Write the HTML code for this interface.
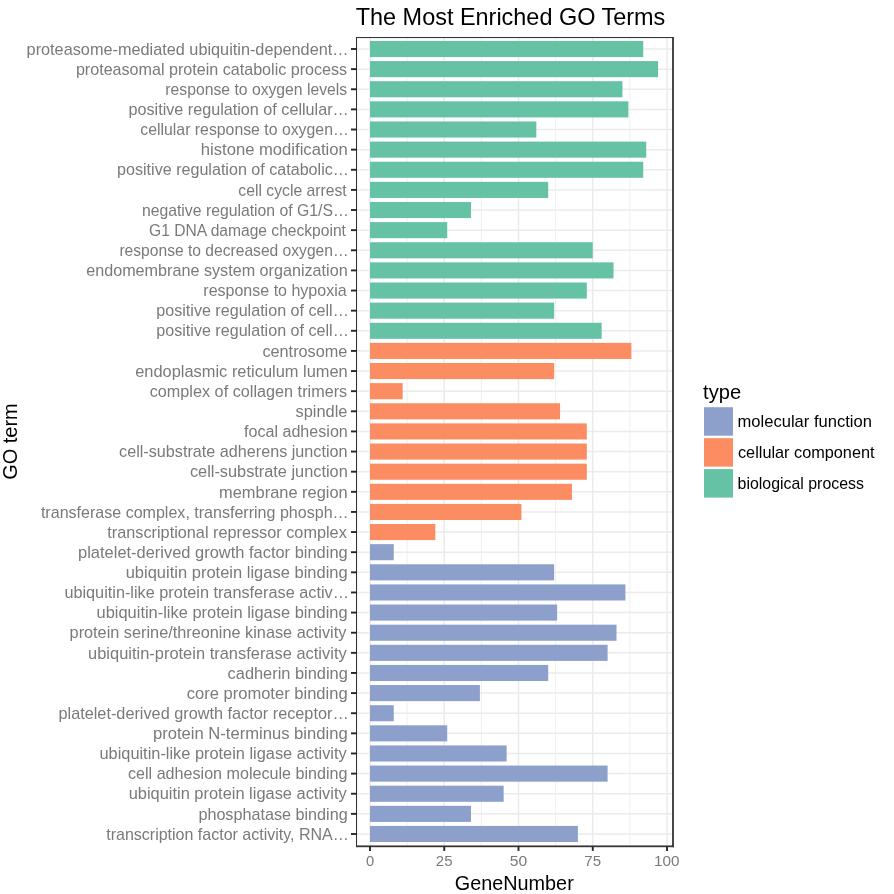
<!DOCTYPE html>
<html><head><meta charset="utf-8"><style>html,body{margin:0;padding:0;background:#fff;}svg{display:block;will-change:transform;}</style></head>
<body>
<svg width="894" height="894" viewBox="0 0 894 894" font-family="Liberation Sans, sans-serif">
<rect width="894" height="894" fill="#fff"/>
<line x1="407.12" y1="37.0" x2="407.12" y2="846.2" stroke="#ebebeb" stroke-width="0.8"/>
<line x1="481.38" y1="37.0" x2="481.38" y2="846.2" stroke="#ebebeb" stroke-width="0.8"/>
<line x1="555.62" y1="37.0" x2="555.62" y2="846.2" stroke="#ebebeb" stroke-width="0.8"/>
<line x1="629.88" y1="37.0" x2="629.88" y2="846.2" stroke="#ebebeb" stroke-width="0.8"/>
<line x1="370.00" y1="37.0" x2="370.00" y2="846.2" stroke="#ebebeb" stroke-width="1.5"/>
<line x1="444.25" y1="37.0" x2="444.25" y2="846.2" stroke="#ebebeb" stroke-width="1.5"/>
<line x1="518.50" y1="37.0" x2="518.50" y2="846.2" stroke="#ebebeb" stroke-width="1.5"/>
<line x1="592.75" y1="37.0" x2="592.75" y2="846.2" stroke="#ebebeb" stroke-width="1.5"/>
<line x1="667.00" y1="37.0" x2="667.00" y2="846.2" stroke="#ebebeb" stroke-width="1.5"/>
<line x1="356.0" y1="49.00" x2="672.6" y2="49.00" stroke="#ebebeb" stroke-width="1.5"/>
<line x1="356.0" y1="69.13" x2="672.6" y2="69.13" stroke="#ebebeb" stroke-width="1.5"/>
<line x1="356.0" y1="89.26" x2="672.6" y2="89.26" stroke="#ebebeb" stroke-width="1.5"/>
<line x1="356.0" y1="109.38" x2="672.6" y2="109.38" stroke="#ebebeb" stroke-width="1.5"/>
<line x1="356.0" y1="129.51" x2="672.6" y2="129.51" stroke="#ebebeb" stroke-width="1.5"/>
<line x1="356.0" y1="149.64" x2="672.6" y2="149.64" stroke="#ebebeb" stroke-width="1.5"/>
<line x1="356.0" y1="169.77" x2="672.6" y2="169.77" stroke="#ebebeb" stroke-width="1.5"/>
<line x1="356.0" y1="189.90" x2="672.6" y2="189.90" stroke="#ebebeb" stroke-width="1.5"/>
<line x1="356.0" y1="210.02" x2="672.6" y2="210.02" stroke="#ebebeb" stroke-width="1.5"/>
<line x1="356.0" y1="230.15" x2="672.6" y2="230.15" stroke="#ebebeb" stroke-width="1.5"/>
<line x1="356.0" y1="250.28" x2="672.6" y2="250.28" stroke="#ebebeb" stroke-width="1.5"/>
<line x1="356.0" y1="270.41" x2="672.6" y2="270.41" stroke="#ebebeb" stroke-width="1.5"/>
<line x1="356.0" y1="290.54" x2="672.6" y2="290.54" stroke="#ebebeb" stroke-width="1.5"/>
<line x1="356.0" y1="310.66" x2="672.6" y2="310.66" stroke="#ebebeb" stroke-width="1.5"/>
<line x1="356.0" y1="330.79" x2="672.6" y2="330.79" stroke="#ebebeb" stroke-width="1.5"/>
<line x1="356.0" y1="350.92" x2="672.6" y2="350.92" stroke="#ebebeb" stroke-width="1.5"/>
<line x1="356.0" y1="371.05" x2="672.6" y2="371.05" stroke="#ebebeb" stroke-width="1.5"/>
<line x1="356.0" y1="391.18" x2="672.6" y2="391.18" stroke="#ebebeb" stroke-width="1.5"/>
<line x1="356.0" y1="411.30" x2="672.6" y2="411.30" stroke="#ebebeb" stroke-width="1.5"/>
<line x1="356.0" y1="431.43" x2="672.6" y2="431.43" stroke="#ebebeb" stroke-width="1.5"/>
<line x1="356.0" y1="451.56" x2="672.6" y2="451.56" stroke="#ebebeb" stroke-width="1.5"/>
<line x1="356.0" y1="471.69" x2="672.6" y2="471.69" stroke="#ebebeb" stroke-width="1.5"/>
<line x1="356.0" y1="491.82" x2="672.6" y2="491.82" stroke="#ebebeb" stroke-width="1.5"/>
<line x1="356.0" y1="511.94" x2="672.6" y2="511.94" stroke="#ebebeb" stroke-width="1.5"/>
<line x1="356.0" y1="532.07" x2="672.6" y2="532.07" stroke="#ebebeb" stroke-width="1.5"/>
<line x1="356.0" y1="552.20" x2="672.6" y2="552.20" stroke="#ebebeb" stroke-width="1.5"/>
<line x1="356.0" y1="572.33" x2="672.6" y2="572.33" stroke="#ebebeb" stroke-width="1.5"/>
<line x1="356.0" y1="592.46" x2="672.6" y2="592.46" stroke="#ebebeb" stroke-width="1.5"/>
<line x1="356.0" y1="612.58" x2="672.6" y2="612.58" stroke="#ebebeb" stroke-width="1.5"/>
<line x1="356.0" y1="632.71" x2="672.6" y2="632.71" stroke="#ebebeb" stroke-width="1.5"/>
<line x1="356.0" y1="652.84" x2="672.6" y2="652.84" stroke="#ebebeb" stroke-width="1.5"/>
<line x1="356.0" y1="672.97" x2="672.6" y2="672.97" stroke="#ebebeb" stroke-width="1.5"/>
<line x1="356.0" y1="693.10" x2="672.6" y2="693.10" stroke="#ebebeb" stroke-width="1.5"/>
<line x1="356.0" y1="713.22" x2="672.6" y2="713.22" stroke="#ebebeb" stroke-width="1.5"/>
<line x1="356.0" y1="733.35" x2="672.6" y2="733.35" stroke="#ebebeb" stroke-width="1.5"/>
<line x1="356.0" y1="753.48" x2="672.6" y2="753.48" stroke="#ebebeb" stroke-width="1.5"/>
<line x1="356.0" y1="773.61" x2="672.6" y2="773.61" stroke="#ebebeb" stroke-width="1.5"/>
<line x1="356.0" y1="793.74" x2="672.6" y2="793.74" stroke="#ebebeb" stroke-width="1.5"/>
<line x1="356.0" y1="813.86" x2="672.6" y2="813.86" stroke="#ebebeb" stroke-width="1.5"/>
<line x1="356.0" y1="833.99" x2="672.6" y2="833.99" stroke="#ebebeb" stroke-width="1.5"/>
<rect x="370.00" y="40.95" width="273.24" height="16.10" fill="#66C2A5"/>
<rect x="370.00" y="61.08" width="288.09" height="16.10" fill="#66C2A5"/>
<rect x="370.00" y="81.21" width="252.45" height="16.10" fill="#66C2A5"/>
<rect x="370.00" y="101.33" width="258.39" height="16.10" fill="#66C2A5"/>
<rect x="370.00" y="121.46" width="166.32" height="16.10" fill="#66C2A5"/>
<rect x="370.00" y="141.59" width="276.21" height="16.10" fill="#66C2A5"/>
<rect x="370.00" y="161.72" width="273.24" height="16.10" fill="#66C2A5"/>
<rect x="370.00" y="181.85" width="178.20" height="16.10" fill="#66C2A5"/>
<rect x="370.00" y="201.97" width="100.98" height="16.10" fill="#66C2A5"/>
<rect x="370.00" y="222.10" width="77.22" height="16.10" fill="#66C2A5"/>
<rect x="370.00" y="242.23" width="222.75" height="16.10" fill="#66C2A5"/>
<rect x="370.00" y="262.36" width="243.54" height="16.10" fill="#66C2A5"/>
<rect x="370.00" y="282.49" width="216.81" height="16.10" fill="#66C2A5"/>
<rect x="370.00" y="302.61" width="184.14" height="16.10" fill="#66C2A5"/>
<rect x="370.00" y="322.74" width="231.66" height="16.10" fill="#66C2A5"/>
<rect x="370.00" y="342.87" width="261.36" height="16.10" fill="#FC8D62"/>
<rect x="370.00" y="363.00" width="184.14" height="16.10" fill="#FC8D62"/>
<rect x="370.00" y="383.13" width="32.67" height="16.10" fill="#FC8D62"/>
<rect x="370.00" y="403.25" width="190.08" height="16.10" fill="#FC8D62"/>
<rect x="370.00" y="423.38" width="216.81" height="16.10" fill="#FC8D62"/>
<rect x="370.00" y="443.51" width="216.81" height="16.10" fill="#FC8D62"/>
<rect x="370.00" y="463.64" width="216.81" height="16.10" fill="#FC8D62"/>
<rect x="370.00" y="483.77" width="201.96" height="16.10" fill="#FC8D62"/>
<rect x="370.00" y="503.89" width="151.47" height="16.10" fill="#FC8D62"/>
<rect x="370.00" y="524.02" width="65.34" height="16.10" fill="#FC8D62"/>
<rect x="370.00" y="544.15" width="23.76" height="16.10" fill="#8DA0CB"/>
<rect x="370.00" y="564.28" width="184.14" height="16.10" fill="#8DA0CB"/>
<rect x="370.00" y="584.41" width="255.42" height="16.10" fill="#8DA0CB"/>
<rect x="370.00" y="604.53" width="187.11" height="16.10" fill="#8DA0CB"/>
<rect x="370.00" y="624.66" width="246.51" height="16.10" fill="#8DA0CB"/>
<rect x="370.00" y="644.79" width="237.60" height="16.10" fill="#8DA0CB"/>
<rect x="370.00" y="664.92" width="178.20" height="16.10" fill="#8DA0CB"/>
<rect x="370.00" y="685.05" width="109.89" height="16.10" fill="#8DA0CB"/>
<rect x="370.00" y="705.17" width="23.76" height="16.10" fill="#8DA0CB"/>
<rect x="370.00" y="725.30" width="77.22" height="16.10" fill="#8DA0CB"/>
<rect x="370.00" y="745.43" width="136.62" height="16.10" fill="#8DA0CB"/>
<rect x="370.00" y="765.56" width="237.60" height="16.10" fill="#8DA0CB"/>
<rect x="370.00" y="785.69" width="133.65" height="16.10" fill="#8DA0CB"/>
<rect x="370.00" y="805.81" width="100.98" height="16.10" fill="#8DA0CB"/>
<rect x="370.00" y="825.94" width="207.90" height="16.10" fill="#8DA0CB"/>
<rect x="356" y="37" width="1.05" height="810" fill="#333333"/>
<rect x="356" y="37" width="318" height="1.05" fill="#333333"/>
<rect x="672.1" y="37" width="1.8" height="810.2" fill="#333333"/>
<rect x="356" y="845.45" width="317.9" height="1.75" fill="#333333"/>
<line x1="351" y1="49.00" x2="356.5" y2="49.00" stroke="#262626" stroke-width="1.9"/>
<line x1="351" y1="69.13" x2="356.5" y2="69.13" stroke="#262626" stroke-width="1.9"/>
<line x1="351" y1="89.26" x2="356.5" y2="89.26" stroke="#262626" stroke-width="1.9"/>
<line x1="351" y1="109.38" x2="356.5" y2="109.38" stroke="#262626" stroke-width="1.9"/>
<line x1="351" y1="129.51" x2="356.5" y2="129.51" stroke="#262626" stroke-width="1.9"/>
<line x1="351" y1="149.64" x2="356.5" y2="149.64" stroke="#262626" stroke-width="1.9"/>
<line x1="351" y1="169.77" x2="356.5" y2="169.77" stroke="#262626" stroke-width="1.9"/>
<line x1="351" y1="189.90" x2="356.5" y2="189.90" stroke="#262626" stroke-width="1.9"/>
<line x1="351" y1="210.02" x2="356.5" y2="210.02" stroke="#262626" stroke-width="1.9"/>
<line x1="351" y1="230.15" x2="356.5" y2="230.15" stroke="#262626" stroke-width="1.9"/>
<line x1="351" y1="250.28" x2="356.5" y2="250.28" stroke="#262626" stroke-width="1.9"/>
<line x1="351" y1="270.41" x2="356.5" y2="270.41" stroke="#262626" stroke-width="1.9"/>
<line x1="351" y1="290.54" x2="356.5" y2="290.54" stroke="#262626" stroke-width="1.9"/>
<line x1="351" y1="310.66" x2="356.5" y2="310.66" stroke="#262626" stroke-width="1.9"/>
<line x1="351" y1="330.79" x2="356.5" y2="330.79" stroke="#262626" stroke-width="1.9"/>
<line x1="351" y1="350.92" x2="356.5" y2="350.92" stroke="#262626" stroke-width="1.9"/>
<line x1="351" y1="371.05" x2="356.5" y2="371.05" stroke="#262626" stroke-width="1.9"/>
<line x1="351" y1="391.18" x2="356.5" y2="391.18" stroke="#262626" stroke-width="1.9"/>
<line x1="351" y1="411.30" x2="356.5" y2="411.30" stroke="#262626" stroke-width="1.9"/>
<line x1="351" y1="431.43" x2="356.5" y2="431.43" stroke="#262626" stroke-width="1.9"/>
<line x1="351" y1="451.56" x2="356.5" y2="451.56" stroke="#262626" stroke-width="1.9"/>
<line x1="351" y1="471.69" x2="356.5" y2="471.69" stroke="#262626" stroke-width="1.9"/>
<line x1="351" y1="491.82" x2="356.5" y2="491.82" stroke="#262626" stroke-width="1.9"/>
<line x1="351" y1="511.94" x2="356.5" y2="511.94" stroke="#262626" stroke-width="1.9"/>
<line x1="351" y1="532.07" x2="356.5" y2="532.07" stroke="#262626" stroke-width="1.9"/>
<line x1="351" y1="552.20" x2="356.5" y2="552.20" stroke="#262626" stroke-width="1.9"/>
<line x1="351" y1="572.33" x2="356.5" y2="572.33" stroke="#262626" stroke-width="1.9"/>
<line x1="351" y1="592.46" x2="356.5" y2="592.46" stroke="#262626" stroke-width="1.9"/>
<line x1="351" y1="612.58" x2="356.5" y2="612.58" stroke="#262626" stroke-width="1.9"/>
<line x1="351" y1="632.71" x2="356.5" y2="632.71" stroke="#262626" stroke-width="1.9"/>
<line x1="351" y1="652.84" x2="356.5" y2="652.84" stroke="#262626" stroke-width="1.9"/>
<line x1="351" y1="672.97" x2="356.5" y2="672.97" stroke="#262626" stroke-width="1.9"/>
<line x1="351" y1="693.10" x2="356.5" y2="693.10" stroke="#262626" stroke-width="1.9"/>
<line x1="351" y1="713.22" x2="356.5" y2="713.22" stroke="#262626" stroke-width="1.9"/>
<line x1="351" y1="733.35" x2="356.5" y2="733.35" stroke="#262626" stroke-width="1.9"/>
<line x1="351" y1="753.48" x2="356.5" y2="753.48" stroke="#262626" stroke-width="1.9"/>
<line x1="351" y1="773.61" x2="356.5" y2="773.61" stroke="#262626" stroke-width="1.9"/>
<line x1="351" y1="793.74" x2="356.5" y2="793.74" stroke="#262626" stroke-width="1.9"/>
<line x1="351" y1="813.86" x2="356.5" y2="813.86" stroke="#262626" stroke-width="1.9"/>
<line x1="351" y1="833.99" x2="356.5" y2="833.99" stroke="#262626" stroke-width="1.9"/>
<line x1="370.00" y1="846.5" x2="370.00" y2="850.9" stroke="#262626" stroke-width="1.9"/>
<line x1="444.25" y1="846.5" x2="444.25" y2="850.9" stroke="#262626" stroke-width="1.9"/>
<line x1="518.50" y1="846.5" x2="518.50" y2="850.9" stroke="#262626" stroke-width="1.9"/>
<line x1="592.75" y1="846.5" x2="592.75" y2="850.9" stroke="#262626" stroke-width="1.9"/>
<line x1="667.00" y1="846.5" x2="667.00" y2="850.9" stroke="#262626" stroke-width="1.9"/>
<text transform="translate(26.58,54.70) scale(1.0180,1)" font-size="16" fill="#7a7a7a">proteasome-mediated ubiquitin-dependent…</text>
<text transform="translate(75.89,74.83) scale(1.0072,1)" font-size="16" fill="#7a7a7a">proteasomal protein catabolic process</text>
<text transform="translate(165.32,94.96) scale(0.9837,1)" font-size="16" fill="#7a7a7a">response to oxygen levels</text>
<text transform="translate(128.49,115.08) scale(1.0117,1)" font-size="16" fill="#7a7a7a">positive regulation of cellular…</text>
<text transform="translate(140.31,135.21) scale(0.9895,1)" font-size="16" fill="#7a7a7a">cellular response to oxygen…</text>
<text transform="translate(200.76,155.34) scale(1.0401,1)" font-size="16" fill="#7a7a7a">histone modification</text>
<text transform="translate(117.09,175.47) scale(1.0064,1)" font-size="16" fill="#7a7a7a">positive regulation of catabolic…</text>
<text transform="translate(238.31,195.60) scale(0.9844,1)" font-size="16" fill="#7a7a7a">cell cycle arrest</text>
<text transform="translate(141.91,215.72) scale(0.9859,1)" font-size="16" fill="#7a7a7a">negative regulation of G1/S…</text>
<text transform="translate(149.12,235.85) scale(0.9751,1)" font-size="16" fill="#7a7a7a">G1 DNA damage checkpoint</text>
<text transform="translate(119.42,255.98) scale(0.9771,1)" font-size="16" fill="#7a7a7a">response to decreased oxygen…</text>
<text transform="translate(86.19,276.11) scale(1.0109,1)" font-size="16" fill="#7a7a7a">endomembrane system organization</text>
<text transform="translate(203.30,296.24) scale(1.0021,1)" font-size="16" fill="#7a7a7a">response to hypoxia</text>
<text transform="translate(156.29,316.36) scale(1.0074,1)" font-size="16" fill="#7a7a7a">positive regulation of cell…</text>
<text transform="translate(156.29,336.49) scale(1.0074,1)" font-size="16" fill="#7a7a7a">positive regulation of cell…</text>
<text transform="translate(262.39,356.62) scale(1.0183,1)" font-size="16" fill="#7a7a7a">centrosome</text>
<text transform="translate(135.18,376.75) scale(1.0262,1)" font-size="16" fill="#7a7a7a">endoplasmic reticulum lumen</text>
<text transform="translate(149.69,396.88) scale(1.0148,1)" font-size="16" fill="#7a7a7a">complex of collagen trimers</text>
<text transform="translate(295.49,417.00) scale(1.0261,1)" font-size="16" fill="#7a7a7a">spindle</text>
<text transform="translate(244.00,437.13) scale(1.0060,1)" font-size="16" fill="#7a7a7a">focal adhesion</text>
<text transform="translate(119.09,457.26) scale(1.0124,1)" font-size="16" fill="#7a7a7a">cell-substrate adherens junction</text>
<text transform="translate(189.89,477.39) scale(1.0206,1)" font-size="16" fill="#7a7a7a">cell-substrate junction</text>
<text transform="translate(219.07,497.52) scale(1.0267,1)" font-size="16" fill="#7a7a7a">membrane region</text>
<text transform="translate(40.90,517.64) scale(1.0039,1)" font-size="16" fill="#7a7a7a">transferase complex, transferring phosph…</text>
<text transform="translate(107.30,537.77) scale(1.0168,1)" font-size="16" fill="#7a7a7a">transcriptional repressor complex</text>
<text transform="translate(78.07,557.90) scale(1.0281,1)" font-size="16" fill="#7a7a7a">platelet-derived growth factor binding</text>
<text transform="translate(125.67,578.03) scale(1.0320,1)" font-size="16" fill="#7a7a7a">ubiquitin protein ligase binding</text>
<text transform="translate(64.38,598.16) scale(1.0158,1)" font-size="16" fill="#7a7a7a">ubiquitin-like protein transferase activ…</text>
<text transform="translate(96.57,618.28) scale(1.0272,1)" font-size="16" fill="#7a7a7a">ubiquitin-like protein ligase binding</text>
<text transform="translate(69.58,638.41) scale(1.0186,1)" font-size="16" fill="#7a7a7a">protein serine/threonine kinase activity</text>
<text transform="translate(88.07,658.54) scale(1.0280,1)" font-size="16" fill="#7a7a7a">ubiquitin-protein transferase activity</text>
<text transform="translate(227.59,678.67) scale(1.0240,1)" font-size="16" fill="#7a7a7a">cadherin binding</text>
<text transform="translate(186.68,698.80) scale(1.0354,1)" font-size="16" fill="#7a7a7a">core promoter binding</text>
<text transform="translate(58.48,718.92) scale(1.0175,1)" font-size="16" fill="#7a7a7a">platelet-derived growth factor receptor…</text>
<text transform="translate(152.96,739.05) scale(1.0385,1)" font-size="16" fill="#7a7a7a">protein N-terminus binding</text>
<text transform="translate(99.48,759.18) scale(1.0224,1)" font-size="16" fill="#7a7a7a">ubiquitin-like protein ligase activity</text>
<text transform="translate(127.99,779.31) scale(1.0087,1)" font-size="16" fill="#7a7a7a">cell adhesion molecule binding</text>
<text transform="translate(128.67,799.44) scale(1.0262,1)" font-size="16" fill="#7a7a7a">ubiquitin protein ligase activity</text>
<text transform="translate(198.39,819.56) scale(1.0118,1)" font-size="16" fill="#7a7a7a">phosphatase binding</text>
<text transform="translate(106.20,839.69) scale(1.0011,1)" font-size="16" fill="#7a7a7a">transcription factor activity, RNA…</text>
<text transform="translate(365.88,866.30) scale(0.9467,1)" font-size="15.5" fill="#7a7a7a">0</text>
<text transform="translate(435.87,866.30) scale(0.9673,1)" font-size="15.5" fill="#7a7a7a">25</text>
<text transform="translate(509.74,866.30) scale(1.0111,1)" font-size="15.5" fill="#7a7a7a">50</text>
<text transform="translate(584.32,866.30) scale(0.9736,1)" font-size="15.5" fill="#7a7a7a">75</text>
<text transform="translate(653.97,866.30) scale(0.9859,1)" font-size="15.5" fill="#7a7a7a">100</text>
<text transform="translate(355.70,24.80) scale(0.9975,1)" font-size="23.5" fill="#000">The Most Enriched GO Terms</text>
<text transform="translate(454.71,890.00) scale(0.9924,1)" font-size="20" fill="#000">GeneNumber</text>
<text transform="translate(17.1,479.80) rotate(-90) scale(0.9972,1)" font-size="20" fill="#000">GO term</text>
<text transform="translate(703.10,398.80) scale(1.0060,1)" font-size="20" fill="#000">type</text>
<rect x="704" y="407.20" width="29" height="28.5" fill="#8DA0CB"/>
<text transform="translate(737.56,427.45) scale(1.0356,1)" font-size="16" fill="#000">molecular function</text>
<rect x="704" y="438.15" width="29" height="28.5" fill="#FC8D62"/>
<text transform="translate(737.99,458.40) scale(1.0176,1)" font-size="16" fill="#000">cellular component</text>
<rect x="704" y="469.10" width="29" height="28.5" fill="#66C2A5"/>
<text transform="translate(737.61,489.35) scale(0.9938,1)" font-size="16" fill="#000">biological process</text>
</svg>
</body></html>
